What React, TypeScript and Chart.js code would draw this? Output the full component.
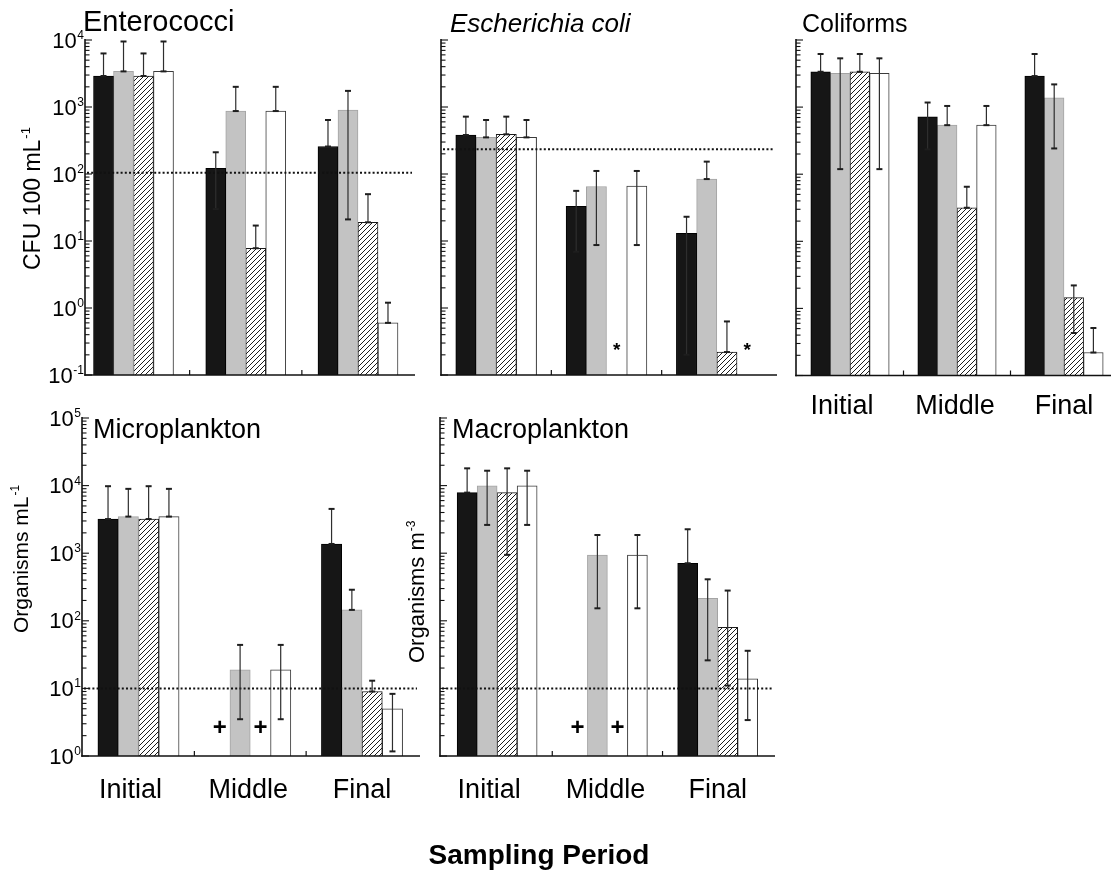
import React, { useEffect, useRef } from "react";
import { Chart, registerables } from "chart.js";

Chart.register(...registerables);

// ---------------- DATA ----------------
const categories = ["Initial", "Middle", "Final"];
const seriesNames = ["Series A", "Series B", "Series C", "Series D"];

const bacteriaExponents = [-1, 0, 1, 2, 3, 4];
const planktonExponents = [0, 1, 2, 3, 4, 5];

// rows = series (black, grey, hatched, open); columns = Initial, Middle, Final
const enterococciMean = [[2900, 122, 257], [3400, 870, 900], [2900, 7.8, 19], [3400, 870, 0.6]];
const enterococciUpper = [[6300, 211, 640], [9500, 2000, 1740], [6300, 17, 50], [9500, 2000, 1.2]];
const enterococciLower = [[2900, 30, 257], [3400, 870, 21], [2900, 7.8, 19], [3400, 870, 0.6]];
const enterococciThreshold = 104;

const ecoliMean = [[382, 33, 13], [352, 65, 84], [391, null, 0.22], [352, 66, null]];
const ecoliUpper = [[718, 56, 23], [640, 111, 153], [718, null, 0.63], [640, 111, null]];
const ecoliLower = [[382, 6.9, 0.2], [352, 8.7, 84], [391, null, 0.22], [352, 8.7, null]];
const ecoliThreshold = 235;

const coliformMean = [[3360, 718, 2900], [3180, 538, 1377], [3360, 31.6, 1.45], [3180, 538, 0.22]];
const coliformUpper = [[6180, 1170, 6180], [5330, 1040, 2180], [6180, 65, 2.2], [5330, 1040, 0.51]];
const coliformLower = [[3360, 234, 2900], [119, 538, 242], [3360, 31.6, 0.43], [119, 538, 0.22]];

const microMean = [[3200, null, 1370], [3480, 18.8, 145], [3200, null, 9.0], [3480, 18.8, 5.0]];
const microUpper = [[9800, null, 4520], [8950, 44, 288], [9800, null, 13], [8950, 44, 8.3]];
const microLower = [[3200, null, 1370], [3480, 3.5, 145], [3200, null, 9.0], [3480, 3.5, 1.17]];
const microThreshold = 10;

const macroMean = [[7870, null, 710], [9890, 940, 215], [7870, null, 80], [9890, 940, 13.8]];
const macroUpper = [[18000, null, 2260], [16600, 1860, 411], [18000, null, 280], [16600, 1860, 36]];
const macroLower = [[7870, null, 710], [2620, 153, 26], [945, null, 11], [2620, 153, 3.4]];
const macroThreshold = 10;

// markers for values that were not detected: [series, category, symbol]
const ecoliMarkers: [number, number, string][] = [[2, 1, "*"], [3, 2, "*"]];
const microMarkers: [number, number, string][] = [[0, 1, "+"], [2, 1, "+"]];
const macroMarkers: [number, number, string][] = [[0, 1, "+"], [2, 1, "+"]];

// ---------------- STYLE / LAYOUT ----------------
const FONT = "'Liberation Sans', Arial, Helvetica, sans-serif";
const W = 1130;
const H = 871;
const labelOffsets = [-8, -2, 0];

const seriesStyles = [
  { bg: "#161616", border: "#000000" },
  { bg: "#c3c3c3", border: "#a4a4a4" },
  { bg: "hatch", border: "#1a1a1a" },
  { bg: "#ffffff", border: "#3a3a3a" },
];

type Panel = {
  key: string;
  title: string;
  titleFont: string;
  titleX: number;
  titleY: number;
  mean: (number | null)[][];
  upper: (number | null)[][];
  lower: (number | null)[][];
  yMin: number;
  yMax: number;
  area: { left: number; right: number; top: number; bottom: number };
  axisX: number;
  axisEnd: number;
  barThickness: number;
  yLabels: number[] | null;
  xLabelY: number | null;
  threshold: number | null;
  markers: [number, number, string][];
  markerDy: number;
  yTitle: { text: string; sup: string; x: number; y: number; size: number } | null;
  figureLabel?: boolean;
};

const panels: Panel[] = [
  {
    key: "entero", title: "Enterococci", titleFont: `29px ${FONT}`, titleX: 83, titleY: 31,
    mean: enterococciMean, upper: enterococciUpper, lower: enterococciLower,
    yMin: 0.1, yMax: 10000,
    area: { left: 77.4, right: 414.1, top: 40, bottom: 375 },
    axisX: 85, axisEnd: 415, barThickness: 20,
    yLabels: bacteriaExponents, xLabelY: null, threshold: enterococciThreshold,
    markers: [], markerDy: 25,
    yTitle: { text: "CFU 100 mL", sup: "-1", x: 40, y: 270, size: 23 },
  },
  {
    key: "ecoli", title: "Escherichia coli", titleFont: `italic 26px ${FONT}`, titleX: 450, titleY: 32,
    mean: ecoliMean, upper: ecoliUpper, lower: ecoliLower,
    yMin: 0.1, yMax: 10000,
    area: { left: 441, right: 772, top: 40, bottom: 375 },
    axisX: 441, axisEnd: 777, barThickness: 20.2,
    yLabels: null, xLabelY: null, threshold: ecoliThreshold,
    markers: ecoliMarkers, markerDy: 24,
    yTitle: null,
  },
  {
    key: "coli", title: "Coliforms", titleFont: `25px ${FONT}`, titleX: 802, titleY: 32,
    mean: coliformMean, upper: coliformUpper, lower: coliformLower,
    yMin: 0.1, yMax: 10000,
    area: { left: 796.5, right: 1117.5, top: 40, bottom: 375.5 },
    axisX: 796, axisEnd: 1111, barThickness: 19.6,
    yLabels: null, xLabelY: 414, threshold: null,
    markers: [], markerDy: 25,
    yTitle: null,
  },
  {
    key: "micro", title: "Microplankton", titleFont: `27px ${FONT}`, titleX: 93, titleY: 438,
    mean: microMean, upper: microUpper, lower: microLower,
    yMin: 1, yMax: 100000,
    area: { left: 82.6, right: 417.9, top: 418, bottom: 756 },
    axisX: 82, axisEnd: 420, barThickness: 20.3,
    yLabels: planktonExponents, xLabelY: 798, threshold: microThreshold,
    markers: microMarkers, markerDy: 28,
    yTitle: { text: "Organisms mL", sup: "-1", x: 28, y: 633, size: 21 },
    figureLabel: true,
  },
  {
    key: "macro", title: "Macroplankton", titleFont: `27px ${FONT}`, titleX: 452, titleY: 438,
    mean: macroMean, upper: macroUpper, lower: macroLower,
    yMin: 1, yMax: 100000,
    area: { left: 442, right: 772.8, top: 418, bottom: 756 },
    axisX: 440, axisEnd: 775, barThickness: 20,
    yLabels: null, xLabelY: 798, threshold: macroThreshold,
    markers: macroMarkers, markerDy: 28,
    yTitle: { text: "Organisms m", sup: "-3", x: 424, y: 663, size: 22 },
  },
];

function makeHatch(): CanvasPattern | string {
  const c = document.createElement("canvas");
  const s = 5;
  c.width = s;
  c.height = s;
  const g = c.getContext("2d");
  if (!g) return "#888";
  g.fillStyle = "#ffffff";
  g.fillRect(0, 0, s, s);
  g.strokeStyle = "#1c1c1c";
  g.lineWidth = 1;
  g.beginPath();
  g.moveTo(0, s);
  g.lineTo(s, 0);
  g.moveTo(-1, 1);
  g.lineTo(1, -1);
  g.moveTo(s - 1, s + 1);
  g.lineTo(s + 1, s - 1);
  g.stroke();
  return g.createPattern(c, "repeat") || "#888";
}

function line(ctx: CanvasRenderingContext2D, x1: number, y1: number, x2: number, y2: number) {
  ctx.beginPath();
  ctx.moveTo(x1, y1);
  ctx.lineTo(x2, y2);
  ctx.stroke();
}

function overlayPlugin(p: Panel) {
  return {
    id: "overlay_" + p.key,
    afterDatasetsDraw(chart: any) {
      const ctx: CanvasRenderingContext2D = chart.ctx;
      const ys = chart.scales.y;
      ctx.save();
      // threshold dotted line
      if (p.threshold != null) {
        const ty = ys.getPixelForValue(p.threshold);
        ctx.strokeStyle = "#111";
        ctx.lineWidth = 2;
        ctx.setLineDash([2, 2.2]);
        line(ctx, p.axisX + 2, ty, p.axisEnd - 3, ty);
        ctx.setLineDash([]);
      }
      // error bars
      for (let d = 0; d < p.mean.length; d++) {
        const meta = chart.getDatasetMeta(d);
        for (let i = 0; i < categories.length; i++) {
          const v = p.mean[d][i];
          const up = p.upper[d][i];
          const lo = p.lower[d][i];
          if (v == null || up == null || lo == null) continue;
          const el = meta.data[i];
          const cx = el.x;
          const yu = ys.getPixelForValue(up);
          const yl = ys.getPixelForValue(lo);
          ctx.strokeStyle = "#2e2e2e";
          ctx.lineWidth = 1.2;
          line(ctx, cx, yu, cx, yl);
          ctx.lineWidth = 2;
          ctx.strokeStyle = "#1e1e1e";
          line(ctx, cx - 3, yu, cx + 3, yu);
          line(ctx, cx - 3, yl, cx + 3, yl);
        }
      }
      // markers for non-detects
      ctx.fillStyle = "#000";
      ctx.textAlign = "center";
      ctx.textBaseline = "middle";
      for (const [d, i, sym] of p.markers) {
        const el = chart.getDatasetMeta(d).data[i];
        ctx.font = sym === "*" ? `bold 19px ${FONT}` : `bold 24px ${FONT}`;
        ctx.fillText(sym, el.x, p.area.bottom - p.markerDy);
      }
      ctx.restore();
    },
    afterDraw(chart: any) {
      const ctx: CanvasRenderingContext2D = chart.ctx;
      const ys = chart.scales.y;
      const xs = chart.scales.x;
      const bottom = ys.getPixelForValue(p.yMin);
      const top = ys.getPixelForValue(p.yMax);
      ctx.save();
      ctx.strokeStyle = "#111";
      ctx.lineWidth = 1.6;
      // axes
      line(ctx, p.axisX, top - 1, p.axisX, bottom + 0.8);
      line(ctx, p.axisX - 0.8, bottom, p.axisEnd, bottom);
      // log ticks (inside)
      const e0 = Math.round(Math.log10(p.yMin));
      const e1 = Math.round(Math.log10(p.yMax));
      ctx.lineWidth = 1.1;
      for (let e = e0; e <= e1; e++) {
        const yy = ys.getPixelForValue(Math.pow(10, e));
        line(ctx, p.axisX, yy, p.axisX + 7, yy);
        if (e < e1) {
          for (let k = 2; k <= 9; k++) {
            const ym = ys.getPixelForValue(k * Math.pow(10, e));
            line(ctx, p.axisX, ym, p.axisX + 4.5, ym);
          }
        }
      }
      // category boundary ticks
      ctx.lineWidth = 1.2;
      for (let i = 0; i < categories.length - 1; i++) {
        const bx = (xs.getPixelForValue(i) + xs.getPixelForValue(i + 1)) / 2;
        line(ctx, bx, bottom, bx, bottom - 5);
      }
      ctx.fillStyle = "#000";
      // y tick labels
      if (p.yLabels) {
        for (const e of p.yLabels) {
          const yy = ys.getPixelForValue(Math.pow(10, e));
          const sup = String(e);
          ctx.font = `12px ${FONT}`;
          ctx.textAlign = "right";
          ctx.textBaseline = "alphabetic";
          const sw = ctx.measureText(sup).width;
          const supRight = p.axisX - 1;
          ctx.fillText(sup, supRight, yy - 1);
          ctx.font = `22px ${FONT}`;
          ctx.fillText("10", supRight - sw - 0.5, yy + 7.5);
        }
      }
      // x category labels
      if (p.xLabelY != null) {
        ctx.font = `27px ${FONT}`;
        ctx.textAlign = "center";
        ctx.textBaseline = "alphabetic";
        categories.forEach((c, i) => {
          ctx.fillText(c, xs.getPixelForValue(i) + labelOffsets[i], p.xLabelY as number);
        });
      }
      // panel title
      ctx.font = p.titleFont;
      ctx.textAlign = "left";
      ctx.textBaseline = "alphabetic";
      ctx.fillText(p.title, p.titleX, p.titleY);
      // y axis title
      if (p.yTitle) {
        const t = p.yTitle;
        ctx.save();
        ctx.translate(t.x, t.y);
        ctx.rotate(-Math.PI / 2);
        ctx.font = `${t.size}px ${FONT}`;
        ctx.textAlign = "left";
        ctx.textBaseline = "alphabetic";
        ctx.fillText(t.text, 0, 0);
        const w = ctx.measureText(t.text).width;
        ctx.font = `${Math.round(t.size * 0.55)}px ${FONT}`;
        ctx.fillText(t.sup, w + 1, -t.size * 0.42);
        ctx.restore();
      }
      if (p.figureLabel) {
        ctx.font = `bold 28px ${FONT}`;
        ctx.textAlign = "center";
        ctx.textBaseline = "alphabetic";
        ctx.fillText("Sampling Period", 539, 864);
      }
      ctx.restore();
    },
  };
}

function PanelChart({ panel }: { panel: Panel }) {
  const ref = useRef<HTMLCanvasElement | null>(null);
  useEffect(() => {
    const canvas = ref.current;
    if (!canvas) return;
    const hatch = makeHatch();
    const chart = new Chart(canvas, {
      type: "bar",
      data: {
        labels: categories,
        datasets: seriesStyles.map((st, d) => ({
          label: seriesNames[d],
          data: panel.mean[d] as any,
          backgroundColor: st.bg === "hatch" ? (hatch as any) : st.bg,
          borderColor: st.border,
          borderWidth: 1,
          barThickness: panel.barThickness,
        })),
      },
      options: {
        responsive: false,
        animation: false,
        events: [],
        layout: {
          padding: {
            left: panel.area.left,
            right: W - panel.area.right,
            top: panel.area.top,
            bottom: H - panel.area.bottom,
          },
        },
        plugins: {
          legend: { display: false },
          tooltip: { enabled: false },
          title: { display: false },
        },
        scales: {
          x: { type: "category", display: false, offset: true },
          y: { type: "logarithmic", display: false, min: panel.yMin, max: panel.yMax },
        },
      },
      plugins: [overlayPlugin(panel) as any],
    });
    return () => chart.destroy();
  }, [panel]);
  return (
    <canvas
      ref={ref}
      width={W}
      height={H}
      style={{ position: "absolute", left: 0, top: 0, width: W, height: H }}
    />
  );
}

export default function App() {
  return (
    <div
      style={{
        position: "absolute",
        left: 0,
        top: 0,
        width: 1111,
        height: 871,
        overflow: "hidden",
        background: "#ffffff",
      }}
    >
      {panels.map((p) => (
        <PanelChart key={p.key} panel={p} />
      ))}
    </div>
  );
}
